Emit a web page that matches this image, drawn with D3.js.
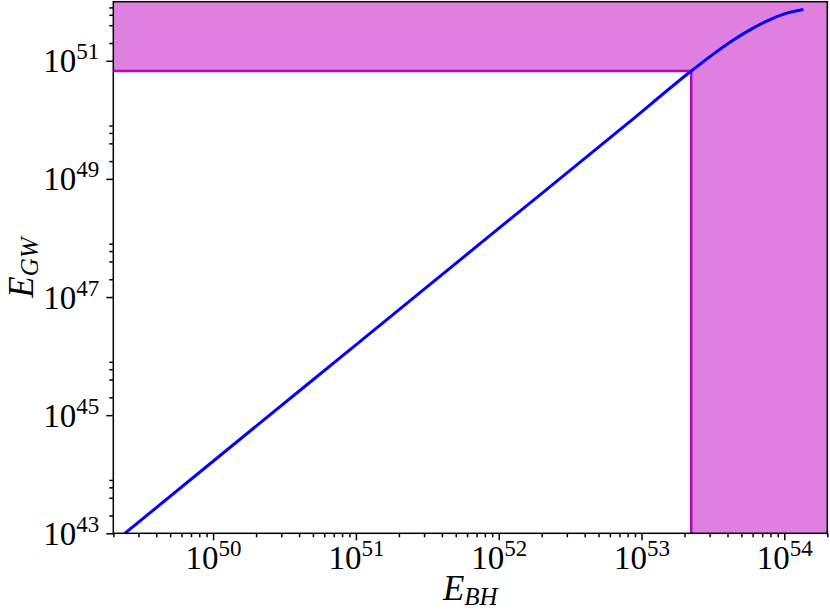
<!DOCTYPE html>
<html>
<head>
<meta charset="utf-8">
<script src="https://cdn.jsdelivr.net/npm/d3@7"></script>
<style>
  body { margin: 0; background: white; }
  text { font-family: "Liberation Serif", "DejaVu Serif", serif; }
</style>
</head>
<body>
<script>
// curve
var eBH = [2.0e49, 1e50, 1e51, 1e52, 8e52, 2.23e53, 3.2e53, 4.4e53, 6.0e53, 7.6e53, 1.04e54, 1.36e54];
var eGW = [6.9e42, 1.66e44, 1.55e46, 1.45e48, 8.7e49, 6.7e50, 1.31e51, 2.25e51, 3.53e51, 4.75e51, 6.4e51, 7.4e51];

// shaded limits
var eBHcut = 2.23e53;
var eGWcut = 6.7e50;

var xTicks = [1e50, 1e51, 1e52, 1e53, 1e54];
var yTicks = [1e43, 1e45, 1e47, 1e49, 1e51];

var margin = {top: 1.7, right: 2.7, bottom: 76.7, left: 113.3},
    width = 830 - margin.left - margin.right,
    height = 610 - margin.top - margin.bottom;

var svg = d3.select("body")
  .append("svg")
    .attr("width", 830)
    .attr("height", 610)
  .append("g")
    .attr("transform", "translate(" + margin.left + "," + margin.top + ")");

var x = d3.scaleLog().domain([2e49, 2e54]).range([0, width]);
var y = d3.scaleLog().domain([1e43, 1e52]).range([height, 0]);

svg.append("clipPath").attr("id", "clip")
  .append("rect").attr("width", width).attr("height", height);

// L shaped excluded region
var region = [
  [x.domain()[0], y.domain()[1]],
  [x.domain()[1], y.domain()[1]],
  [x.domain()[1], y.domain()[0]],
  [eBHcut, y.domain()[0]],
  [eBHcut, eGWcut],
  [x.domain()[0], eGWcut]
];
var lineXY = d3.line().x(function(d) { return x(d[0]); }).y(function(d) { return y(d[1]); });

svg.append("path")
  .datum(region)
  .attr("d", lineXY)
  .attr("fill", "#df7fdf")
  .attr("stroke", "none");

svg.append("path")
  .datum([[x.domain()[0], eGWcut], [eBHcut, eGWcut], [eBHcut, y.domain()[0]]])
  .attr("d", lineXY)
  .attr("fill", "none")
  .attr("stroke", "#bf00bf")
  .attr("stroke-width", 2.5);

// the curve
var pts = eBH.map(function(d, i) { return [d, eGW[i]]; });
svg.append("path")
  .datum(pts)
  .attr("clip-path", "url(#clip)")
  .attr("d", d3.line()
    .x(function(d) { return x(d[0]); })
    .y(function(d) { return y(d[1]); })
    .curve(d3.curveMonotoneX))
  .attr("fill", "none")
  .attr("stroke", "#0000ff")
  .attr("stroke-width", 3);

// minor ticks
var xMinor = x.ticks().filter(function(v) {
  var m = Math.round(v / Math.pow(10, Math.floor(Math.log10(v) + 1e-9)));
  return m !== 1;
});
var yMinor = y.ticks().filter(function(v) {
  var e = Math.floor(Math.log10(v) + 1e-9);
  var m = Math.round(v / Math.pow(10, e));
  return (e % 2 !== 0) && (m === 2 || m === 4 || m === 6 || m === 8);
});

function styleAxis(g) {
  g.select(".domain").remove();
  g.selectAll(".tick line").attr("stroke", "black").attr("stroke-width", 1.5);
}

function powLabel(sel) {
  sel.each(function(d) {
    var t = d3.select(this);
    var ex = Math.round(Math.log10(d));
    t.text(null);
    t.append("tspan").text("10");
    t.append("tspan").attr("font-size", "23px").attr("dy", "-13").text(ex);
  });
}

svg.append("g")
  .attr("transform", "translate(0," + height + ")")
  .call(d3.axisBottom(x).tickValues(xMinor).tickSize(4).tickFormat(""))
  .call(styleAxis);

svg.append("g")
  .attr("transform", "translate(0," + height + ")")
  .call(d3.axisBottom(x).tickValues(xTicks).tickSize(7))
  .call(styleAxis)
  .selectAll("text")
    .attr("y", 36)
    .attr("dy", 0)
    .attr("fill", "black")
    .style("font-size", "33px")
    .call(powLabel);

svg.append("g")
  .call(d3.axisLeft(y).tickValues(yMinor).tickSize(4).tickFormat(""))
  .call(styleAxis);

svg.append("g")
  .call(d3.axisLeft(y).tickValues(yTicks).tickSize(7))
  .call(styleAxis)
  .selectAll("text")
    .attr("x", -14)
    .attr("dy", 11)
    .attr("fill", "black")
    .style("font-size", "33px")
    .call(powLabel);

// frame
svg.append("rect")
  .attr("width", width)
  .attr("height", height)
  .attr("fill", "none")
  .attr("stroke", "black")
  .attr("stroke-width", 1.5);

// axis titles
var xl = svg.append("text")
  .attr("x", width / 2)
  .attr("y", height + 67)
  .attr("text-anchor", "middle")
  .style("font-size", "35px")
  .style("font-style", "italic");
xl.append("tspan").text("E");
xl.append("tspan").attr("font-size", "25px").attr("dy", 5).text("BH");

var yl = svg.append("text")
  .attr("transform", "translate(" + (-80) + "," + (height / 2) + ") rotate(-90)")
  .attr("text-anchor", "middle")
  .style("font-size", "35px")
  .style("font-style", "italic");
yl.append("tspan").text("E");
yl.append("tspan").attr("font-size", "25px").attr("dy", 5).text("GW");
</script>
</body>
</html>
